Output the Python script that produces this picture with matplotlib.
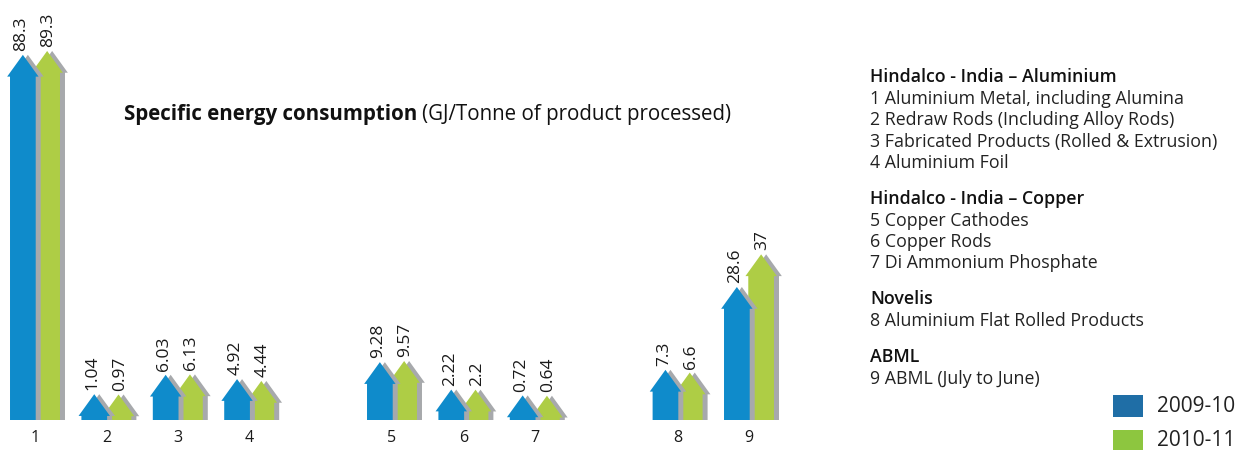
import matplotlib.pyplot as plt
from matplotlib.patches import Polygon

plt.rcParams['font.family'] = ['Open Sans', 'DejaVu Sans']

categories = ['1', '2', '3', '4', '5', '6', '7', '8', '9']
positions = [0, 1, 2, 3, 5, 6, 7, 9, 10]
fy2010 = [88.3, 1.04, 6.03, 4.92, 9.28, 2.22, 0.72, 7.3, 28.6]
fy2011 = [89.3, 0.97, 6.13, 4.44, 9.57, 2.2, 0.64, 6.6, 37]
fy2010_labels = ['88.3', '1.04', '6.03', '4.92', '9.28', '2.22', '0.72', '7.3', '28.6']
fy2011_labels = ['89.3', '0.97', '6.13', '4.44', '9.57', '2.2', '0.64', '6.6', '37']

groups = [
    ('Hindalco - India – Aluminium', ['1 Aluminium Metal, including Alumina',
                                      '2 Redraw Rods (Including Alloy Rods)',
                                      '3 Fabricated Products (Rolled & Extrusion)',
                                      '4 Aluminium Foil']),
    ('Hindalco - India – Copper', ['5 Copper Cathodes', '6 Copper Rods',
                                   '7 Di Ammonium Phosphate']),
    ('Novelis', ['8 Aluminium Flat Rolled Products']),
    ('ABML', ['9 ABML (July to June)']),
]

BLUE = '#0f8bcb'
GREEN = '#aecd45'
SHADOW = '#a7a9ac'
HEAD = 5.6      # arrowhead height, data units
BW = 0.18       # half width of the shaft
HW = 0.22       # half width of the head
SHIFT = 0.07    # shadow offset


def arrow(ax, c, v, color, z):
    def pts(x0):
        return [(x0 - BW, 0), (x0 - BW, v), (x0 - HW, v), (x0, v + HEAD),
                (x0 + HW, v), (x0 + BW, v), (x0 + BW, 0)]
    ax.add_patch(Polygon(pts(c + SHIFT), closed=True, fc=SHADOW, ec='none', zorder=z))
    ax.add_patch(Polygon(pts(c), closed=True, fc=color, ec='none', zorder=z + 0.5))


fig = plt.figure(figsize=(12.37, 4.5), dpi=100)
ax = fig.add_axes([0, 30 / 450, 800 / 1237, 420 / 450])
ax.set_xlim(-35 / 71.4, 765 / 71.4)
ax.set_ylim(0, 108)

for p, a, b, la, lb in zip(positions, fy2010, fy2011, fy2010_labels, fy2011_labels):
    arrow(ax, p + 0.17, b, GREEN, 2)
    arrow(ax, p - 0.17, a, BLUE, 3)
    ax.text(p - 0.19, a + HEAD + 1.0, la, rotation=90, ha='center', va='bottom',
            fontsize=12.5, color='#1a1a1a')
    ax.text(p + 0.19, b + HEAD + 1.0, lb, rotation=90, ha='center', va='bottom',
            fontsize=12.5, color='#1a1a1a')

ax.set_xticks(positions)
ax.set_xticklabels(categories, fontsize=11.5, color='#1a1a1a')
ax.tick_params(axis='x', length=0, pad=7)
ax.set_yticks([])
for s in ax.spines.values():
    s.set_visible(False)

# title: bold lead followed by the unit in regular weight
t1 = fig.text(124 / 1237, 1 - 114 / 450, 'Specific energy consumption', fontsize=14.8,
              fontweight='bold', va='center', ha='left', color='#111111')
fig.canvas.draw()
bb = t1.get_window_extent()
fig.text(bb.x1 / 1237 + 0.004, 1 - 114 / 450, '(GJ/Tonne of product processed)',
         fontsize=14.8, va='center', ha='left', color='#111111')

# product key on the right
y = 77
for head, items in groups:
    fig.text(870 / 1237, 1 - y / 450, head, fontsize=12.8, fontweight='semibold',
             va='center', ha='left', color='#111111')
    y += 21.5
    for it in items:
        fig.text(870 / 1237, 1 - y / 450, it, fontsize=12.8, va='center',
                 ha='left', color='#222222')
        y += 21.5
    y += 14.5

for yy, col, lab in [(406, '#1f6ea6', '2009-10'), (441, '#8dc63f', '2010-11')]:
    fig.patches.append(plt.Rectangle((1113 / 1237, 1 - (yy + 11) / 450), 30 / 1237, 22 / 450,
                                     transform=fig.transFigure, fc=col, ec='none'))
    fig.text(1157 / 1237, 1 - yy / 450, lab, fontsize=15, va='center', ha='left',
             color='#222222')

fig.savefig('out.png', dpi=100)
